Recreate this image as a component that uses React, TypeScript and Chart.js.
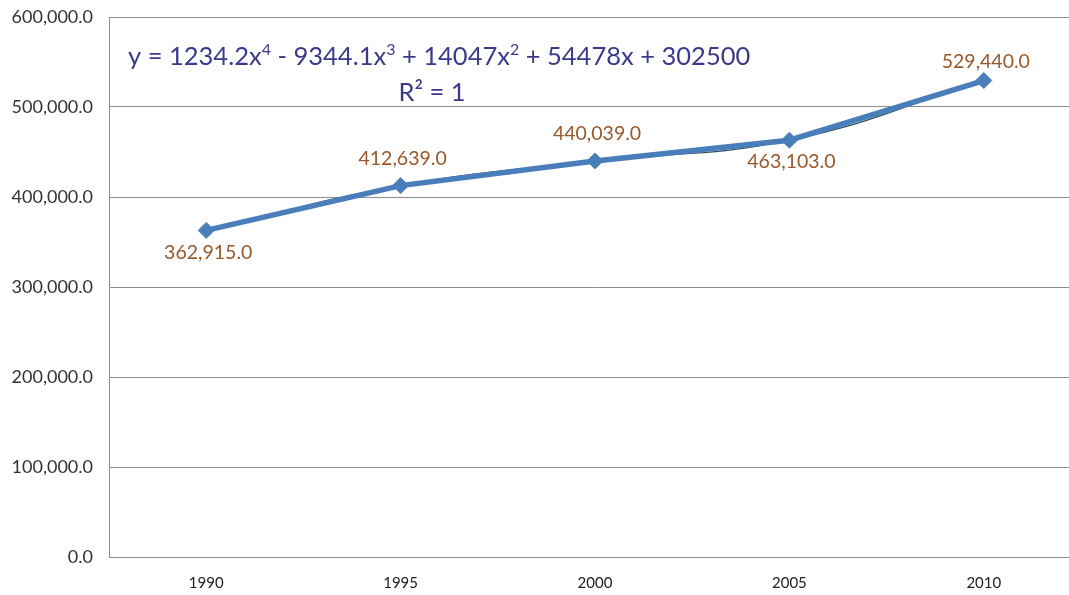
import React, { useEffect, useRef } from "react";
import { Chart, registerables } from "chart.js";

Chart.register(...registerables);

const years = ["1990", "1995", "2000", "2005", "2010"];
const population = [362915, 412639, 440039, 463103, 529440];
const labelOffsetY = [22, -27, -27, 22, -19];
const yTicks = [0, 100000, 200000, 300000, 400000, 500000, 600000];
const equationParts = [
  { t: "y = 1234.2x", sup: false },
  { t: "4", sup: true },
  { t: " - 9344.1x", sup: false },
  { t: "3", sup: true },
  { t: " + 14047x", sup: false },
  { t: "2", sup: true },
  { t: " + 54478x + 302500", sup: false },
];
const rSquaredText = "R² = 1";

const FONT = "Lato, 'Open Sans', sans-serif";
const fmt = (v: number) =>
  v.toLocaleString("en-US", { minimumFractionDigits: 1, maximumFractionDigits: 1 });

const overlayPlugin = {
  id: "overlay",
  afterDatasetsDraw(chart: any) {
    const ctx = chart.ctx;
    const meta = chart.getDatasetMeta(0);
    ctx.save();
    // data labels
    ctx.font = `19.5px ${FONT}`;
    ctx.fillStyle = "#98582a";
    ctx.textAlign = "center";
    ctx.textBaseline = "middle";
    meta.data.forEach((pt: any, i: number) => {
      ctx.fillText(fmt(population[i]), pt.x + 2, pt.y + labelOffsetY[i]);
    });
    // equation
    const area = chart.chartArea;
    let x = area.left + 19;
    const baseY = 65;
    ctx.fillStyle = "#3b3a8a";
    ctx.textAlign = "left";
    ctx.textBaseline = "alphabetic";
    equationParts.forEach((p) => {
      if (p.sup) {
        ctx.font = `16px ${FONT}`;
        ctx.fillText(p.t, x, baseY - 10);
      } else {
        ctx.font = `25.5px ${FONT}`;
        ctx.fillText(p.t, x, baseY);
      }
      x += ctx.measureText(p.t).width;
    });
    ctx.font = `25.5px ${FONT}`;
    ctx.textAlign = "center";
    ctx.fillText(rSquaredText, 432, 101);
    ctx.restore();
  },
};

export default function App() {
  const ref = useRef<HTMLCanvasElement | null>(null);
  useEffect(() => {
    if (!ref.current) return;
    const chart = new Chart(ref.current, {
      type: "line",
      data: {
        labels: years,
        datasets: [
          {
            data: population,
            borderColor: "#4a7ebb",
            backgroundColor: "#4a7ebb",
            borderWidth: 5.5,
            pointStyle: "rectRot",
            pointRadius: 8,
            pointBorderWidth: 1,
            tension: 0,
            order: 1,
          },
          {
            data: population,
            borderColor: "#2c4f5c",
            borderWidth: 1.3,
            pointRadius: 0,
            tension: 0.45,
            order: 2,
          },
        ],
      },
      options: {
        responsive: false,
        animation: false,
        layout: { padding: { top: 17, right: 6, left: 0, bottom: 0 } },
        plugins: { legend: { display: false }, tooltip: { enabled: false } },
        scales: {
          x: {
            type: "category",
            offset: true,
            grid: { display: false, drawTicks: false },
            border: { display: true, color: "#8c8c8c", width: 1 },
            ticks: {
              color: "#222",
              font: { family: FONT, size: 15 },
              padding: 17,
              maxRotation: 0,
            },
            afterFit: (s: any) => {
              s.height = 38;
            },
          },
          y: {
            min: 0,
            max: 600000,
            afterBuildTicks: (s: any) => {
              s.ticks = yTicks.map((v) => ({ value: v }));
            },
            grid: { color: "#8c8c8c", lineWidth: 1, drawTicks: false },
            border: { display: true, color: "#8c8c8c", width: 1 },
            ticks: {
              color: "#333",
              font: { family: FONT, size: 18 },
              padding: 16,
              callback: (v: any) => fmt(Number(v)),
            },
            afterFit: (s: any) => {
              s.width = 109;
              s.paddingTop = 0;
              s.paddingBottom = 0;
            },
          },
        },
      },
      plugins: [overlayPlugin],
    });
    return () => chart.destroy();
  }, []);
  return (
    <div
      style={{
        position: "fixed",
        left: 0,
        top: 0,
        width: 1069,
        height: 595,
        overflow: "hidden",
        background: "#fff",
      }}
    >
      <canvas ref={ref} width={1090} height={595} style={{ width: 1090, height: 595 }} />
    </div>
  );
}
